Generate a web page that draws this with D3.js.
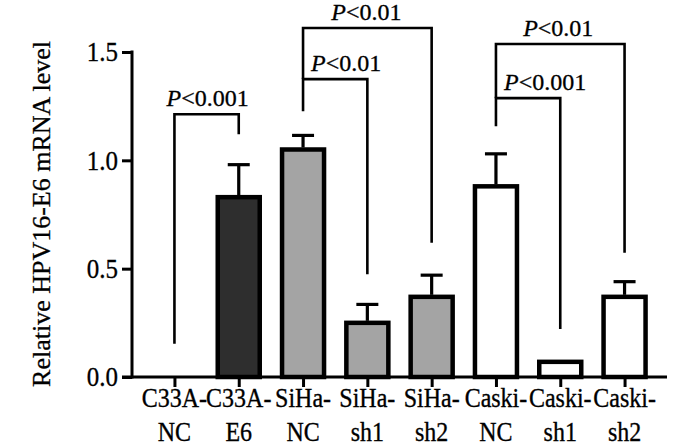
<!DOCTYPE html>
<html><head><meta charset="utf-8">
<script src="https://cdn.jsdelivr.net/npm/d3@7/dist/d3.min.js"></script>
<style>
html,body{margin:0;padding:0;background:#fff;}
svg{display:block;}
svg text{font-family:"Liberation Serif","Times New Roman",serif;fill:#000;stroke:#000;stroke-width:0.3px;}
</style></head>
<body>
<svg id="c" width="700" height="448"></svg>
<script>
const categories = ["C33A-NC","C33A-E6","SiHa-NC","SiHa-sh1","SiHa-sh2","Caski-NC","Caski-sh1","Caski-sh2"];
const labelLine1 = ["C33A-","C33A-","SiHa-","SiHa-","SiHa-","Caski-","Caski-","Caski-"];
const labelLine2 = ["NC","E6","NC","sh1","sh2","NC","sh1","sh2"];
const values = [0, 0.83, 1.05, 0.25, 0.37, 0.88, 0.07, 0.37];
const errors = [0, 0.15, 0.065, 0.085, 0.10, 0.15, 0, 0.07];
const groups = ["none","c33a","siha","siha","siha","caski","caski","caski"];
const yTicks = [0, 0.5, 1.0, 1.5];
const yTickLabels = ["0.0","0.5","1.0","1.5"];
// significance brackets: from, to, bar level, left-leg bottom, right-leg bottom, label
const bracketFrom = [0, 2, 2, 5, 5];
const bracketTo = [1, 3, 4, 6, 7];
const bracketLevel = [1.213, 1.375, 1.611, 1.287, 1.537];
const bracketLeftEnd = [0.153, 1.227, 1.375, 1.157, 1.287];
const bracketRightEnd = [1.12, 0.474, 0.62, 0.222, 0.574];
const bracketP = ["0.001", "0.01", "0.01", "0.001", "0.01"];

const fills = {none:"#fff", c33a:"#2e2e2e", siha:"#a4a4a4", caski:"#ffffff"};
const labelDx = [1, 11, -1, 17, -2];
const vs = 1.1; // vertical stretch of axis text as in reference

const svg = d3.select("#c");
const x = d3.scalePoint().domain(categories).range([132, 667]).padding(0.66);
const y = d3.scaleLinear().domain([0, 1.5]).range([377, 52]);

// bars
const barW = 42;
const bars = categories.map((c,i)=>({c, v:values[i], e:errors[i], g:groups[i]}));
svg.append("g").selectAll("rect").data(bars.filter(d=>d.v>0)).join("rect")
  .attr("x", d=>x(d.c)-barW/2).attr("width", barW)
  .attr("y", d=>y(d.v)).attr("height", d=>y(0)-y(d.v))
  .attr("fill", d=>fills[d.g]).attr("stroke","#000").attr("stroke-width",4.5);

// error bars
const eb = svg.append("g").attr("stroke","#000").attr("stroke-width",3.2);
bars.filter(d=>d.e>0).forEach(d=>{
  eb.append("line").attr("x1",x(d.c)).attr("x2",x(d.c)).attr("y1",y(d.v)-2).attr("y2",y(d.v+d.e));
  eb.append("line").attr("x1",x(d.c)-11).attr("x2",x(d.c)+11).attr("y1",y(d.v+d.e)).attr("y2",y(d.v+d.e));
});

// axes
const yAxis = svg.append("g").attr("transform","translate(132,0)")
  .call(d3.axisLeft(y).tickValues(yTicks).tickFormat((d,i)=>yTickLabels[i]).tickSize(10).tickPadding(4));
const xAxis = svg.append("g").attr("transform","translate(0,377)")
  .call(d3.axisBottom(x).tickSize(10).tickFormat(""));
[yAxis,xAxis].forEach(a=>{
  a.selectAll("path,line").attr("stroke","#000").attr("stroke-width",3);
  a.select(".domain").remove();
});
svg.append("line").attr("x1",132).attr("x2",132).attr("y1",y(0)+1.5).attr("y2",y(1.5)-1.5).attr("stroke","#000").attr("stroke-width",3);
svg.append("line").attr("x1",122).attr("x2",667).attr("y1",y(0)).attr("y2",y(0)).attr("stroke","#000").attr("stroke-width",3);
yAxis.selectAll("text").attr("font-size",25).attr("fill","#000")
  .attr("dy",null).attr("y",8).attr("transform",`scale(1,${vs})`);

// x labels
const xl = svg.append("g").attr("font-size",24).attr("text-anchor","middle");
categories.forEach((c,i)=>{
  xl.append("text").attr("transform",`translate(${x(c)},407) scale(1,${vs})`).text(labelLine1[i]);
  xl.append("text").attr("transform",`translate(${x(c)},441) scale(1,${vs})`).text(labelLine2[i]);
});

// y label
svg.append("text").attr("transform","translate(50,214) rotate(-90)")
  .attr("text-anchor","middle").attr("font-size",26).text("Relative HPV16-E6 mRNA level");

// brackets
const br = svg.append("g");
bracketFrom.forEach((f,i)=>{
  const x1 = x(categories[f]), x2 = x(categories[bracketTo[i]]);
  const yl = y(bracketLevel[i]);
  br.append("path")
    .attr("d", `M${x1},${y(bracketLeftEnd[i])}V${yl}H${x2}V${y(bracketRightEnd[i])}`)
    .attr("fill","none").attr("stroke","#000").attr("stroke-width",2.6);
  const t = br.append("text")
    .attr("x",(x1+x2)/2+labelDx[i]).attr("y",yl-8)
    .attr("text-anchor","middle").attr("font-size",24);
  t.append("tspan").attr("font-style","italic").text("P");
  t.append("tspan").text("<"+bracketP[i]);
});
</script>
</body></html>
